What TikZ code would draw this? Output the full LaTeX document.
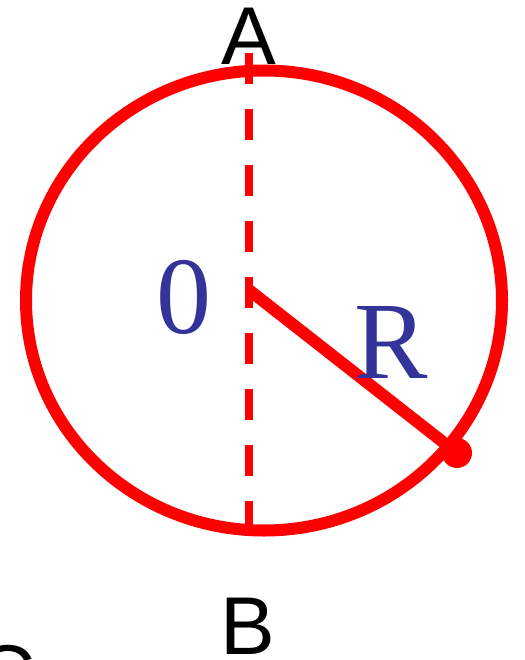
\documentclass[tikz,border=0pt]{standalone}
\usepackage{fontspec}
\setmainfont{Liberation Serif}
\newfontfamily\arialf{Liberation Sans}
\definecolor{myblue}{HTML}{333399}
\begin{document}
\begin{tikzpicture}[x=1pt,y=-1pt]
\tikzset{
  ring/.style={draw=red, line width=12pt},
  dashline/.style={draw=red, line width=8pt, dash pattern=on 31pt off 25pt},
  radline/.style={draw=red, line width=12pt},
  lab/.style={font=\arialf\fontsize{82}{82}\selectfont, inner sep=0pt, text=black},
  bluelab/.style={text=myblue, font=\fontsize{110}{110}\selectfont, inner sep=0pt}
}
\useasboundingbox (0,0) rectangle (524,660);
\coordinate (M) at (264,300.5);
\coordinate (T) at (249,53);
\coordinate (D) at (249,532);
\coordinate (O) at (249,290);
\coordinate (P) at (457,453);
\draw[ring] (M) ellipse [x radius=238, y radius=230];
\draw[dashline] (T) -- (D);
\draw[radline] (O) -- (P);
\fill[red] (P) circle [radius=15pt];
\node[lab] (a) at (249,36) {A};
\node[lab] (b) at (248,626) {B};
\node[lab, anchor=north] (c) at (6,645) {C};
\node[bluelab] (zero) at (183.5,297.5) {0};
\node[bluelab] (r) at (391,342.5) {R};
\end{tikzpicture}
\end{document}
